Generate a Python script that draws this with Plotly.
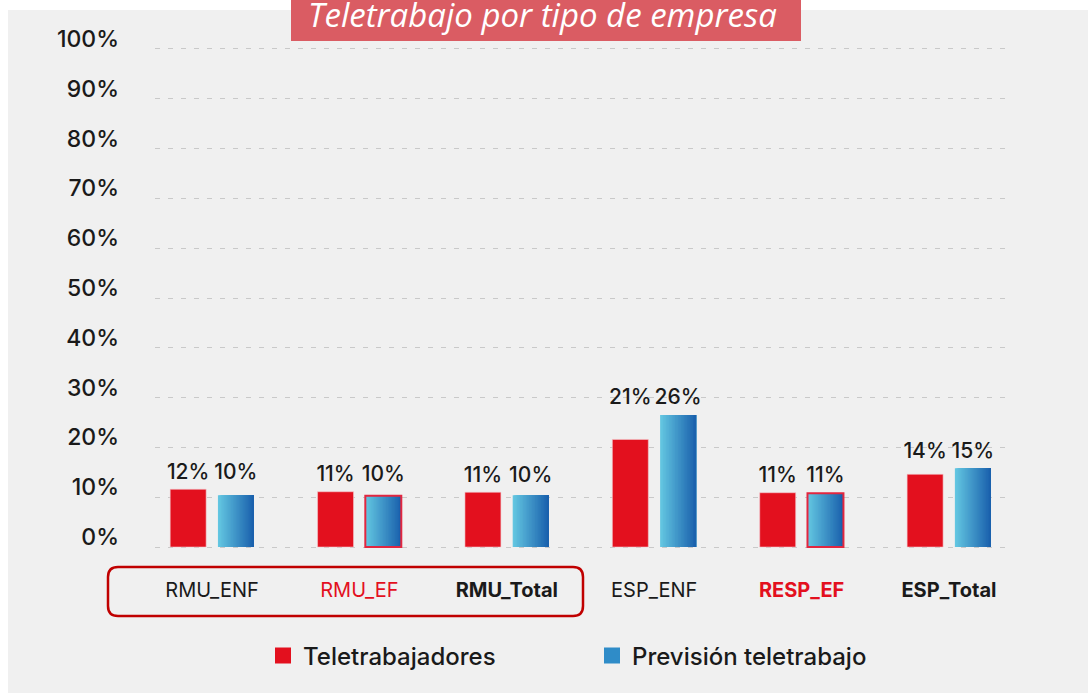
import plotly.graph_objects as go

categories = ["RMU_ENF", "RMU_EF", "RMU_Total", "ESP_ENF", "RESP_EF", "ESP_Total"]
tick_labels = [
    "RMU_ENF",
    "<span style='color:#e3101e'>RMU_EF</span>",
    "<b>RMU_Total</b>",
    "ESP_ENF",
    "<span style='color:#e3101e'><b>RESP_EF</b></span>",
    "<b>ESP_Total</b>",
]
teletrabajadores = [11.6, 11.1, 11.0, 21.6, 10.9, 14.6]
prevision = [10.4, 10.3, 10.4, 26.5, 10.8, 15.8]
teletrabajadores_txt = ["12%", "11%", "11%", "21%", "11%", "14%"]
prevision_txt = ["10%", "10%", "10%", "26%", "11%", "15%"]
y_ticks = list(range(0, 101, 10))

FONT = "Inter"
W = 1088
H = 693
L, R, T, B = 155, 78, 44, 141
pos = list(range(len(categories)))
bar_w = 0.244
gap = 0.04


def hex_mix(c1, c2, t):
    a = [int(c1[i:i + 2], 16) for i in (1, 3, 5)]
    b = [int(c2[i:i + 2], 16) for i in (1, 3, 5)]
    return "#%02x%02x%02x" % tuple(round(a[i] + (b[i] - a[i]) * t) for i in range(3))


fig = go.Figure()

# red bars
fig.add_trace(go.Bar(x=pos, y=teletrabajadores, width=bar_w, offset=-gap - bar_w,
                     marker=dict(color="#e3101e", line=dict(color="#f4c8cc", width=0.6)),
                     showlegend=False, hoverinfo="skip"))

# blue bars with a left-to-right gradient made of thin slices
n_slices = 24
sw = bar_w / n_slices
for k in range(n_slices):
    fig.add_trace(go.Bar(x=pos, y=prevision, width=sw * (n_slices - k), offset=gap + k * sw,
                         marker=dict(color=hex_mix("#63c6e1", "#1a61ad", k / (n_slices - 1)),
                                     line=dict(width=0)),
                         showlegend=False, hoverinfo="skip"))

# red outline on the EF blue bars
ef_idx = [i for i, c in enumerate(categories) if c.endswith("_EF")]
fig.add_trace(go.Bar(x=[pos[i] for i in ef_idx], y=[prevision[i] for i in ef_idx],
                     width=bar_w, offset=gap,
                     marker=dict(color="rgba(0,0,0,0)", line=dict(color="#e2263f", width=2)),
                     showlegend=False, hoverinfo="skip"))

# value labels, each pair at the same height above the taller bar
label_y = [max(a, b) + 3.2 for a, b in zip(teletrabajadores, prevision)]
fig.add_trace(go.Scatter(x=[p - gap - bar_w / 2 for p in pos], y=label_y, mode="text",
                         text=teletrabajadores_txt, textfont=dict(family=FONT, size=21, color="#1a1a1a", weight=500),
                         showlegend=False, hoverinfo="skip"))
fig.add_trace(go.Scatter(x=[p + gap + bar_w / 2 for p in pos], y=label_y, mode="text",
                         text=prevision_txt, textfont=dict(family=FONT, size=21, color="#1a1a1a", weight=500),
                         showlegend=False, hoverinfo="skip"))

# legend entries
fig.add_trace(go.Scatter(x=[None], y=[None], mode="markers", name="Teletrabajadores",
                         marker=dict(symbol="square", size=16, color="#e3101e")))
fig.add_trace(go.Scatter(x=[None], y=[None], mode="markers", name="Previsión teletrabajo",
                         marker=dict(symbol="square", size=16, color="#2f8cc8")))


def px_x(px):
    return (px - L) / (W - L - R)


def px_y(py):
    return (H - B - py) / (H - T - B)


shapes = [
    # white frame strips at top and left
    dict(type="rect", xref="paper", yref="paper", x0=px_x(-5), x1=px_x(W + 5), y0=px_y(10), y1=px_y(-5),
         fillcolor="white", line=dict(width=0), layer="below"),
    dict(type="rect", xref="paper", yref="paper", x0=px_x(-5), x1=px_x(8), y0=px_y(H + 5), y1=px_y(-5),
         fillcolor="white", line=dict(width=0), layer="below"),
    # title box
    dict(type="rect", xref="paper", yref="paper", x0=px_x(291), x1=px_x(801), y0=px_y(41), y1=px_y(-5),
         fillcolor="#da5c63", line=dict(width=0)),
]

# rounded box around RMU labels
x0, x1, y0, y1 = px_x(108), px_x(583), px_y(616), px_y(567)
rx, ry = 10 / (W - L - R), 10 / (H - T - B)
path = (f"M{x0 + rx},{y1} L{x1 - rx},{y1} Q{x1},{y1} {x1},{y1 - ry} "
        f"L{x1},{y0 + ry} Q{x1},{y0} {x1 - rx},{y0} L{x0 + rx},{y0} "
        f"Q{x0},{y0} {x0},{y0 + ry} L{x0},{y1 - ry} Q{x0},{y1} {x0 + rx},{y1} Z")
shapes.append(dict(type="path", xref="paper", yref="paper", path=path,
                   line=dict(color="#c00000", width=2.5)))

fig.update_layout(
    width=W, height=H,
    margin=dict(l=L, r=R, t=T, b=B, autoexpand=False),
    paper_bgcolor="#f0f0f0", plot_bgcolor="#f0f0f0",
    barmode="overlay",
    font=dict(family=FONT, color="#1a1a1a"),
    shapes=shapes,
    annotations=[dict(text="<i>Teletrabajo por tipo de empresa</i>", xref="paper", yref="paper",
                      x=px_x(542), y=px_y(14), xanchor="center", yanchor="middle", showarrow=False,
                      font=dict(family="Open Sans", size=33, color="white"))],
    legend=dict(orientation="h", x=px_x(263), y=px_y(656), xanchor="left", yanchor="middle",
                font=dict(family=FONT, size=24, color="#1a1a1a", weight=500),
                itemsizing="trace", entrywidth=284, bgcolor="rgba(0,0,0,0)"),
    xaxis=dict(range=[-0.387, 5.414], tickvals=pos, ticktext=tick_labels, showgrid=False,
               zeroline=False, showline=False, ticks="", ticklabelstandoff=24,
               tickfont=dict(family=FONT, size=20, color="#1a1a1a")),
    yaxis=dict(range=[-1, 101], tickvals=y_ticks, ticktext=[f"{v}%" for v in y_ticks],
               showgrid=True, gridcolor="#c9c9c9", griddash="5px,8px", gridwidth=1,
               zeroline=False, showline=False, ticks="", ticklabelstandoff=35, ticklabelshift=-10,
               tickfont=dict(family=FONT, size=23, color="#1a1a1a", weight=500)),
)

fig.write_html("out.html", config={"displayModeBar": False},
               post_script="document.body.style.margin='0';document.body.style.overflow='hidden';")
